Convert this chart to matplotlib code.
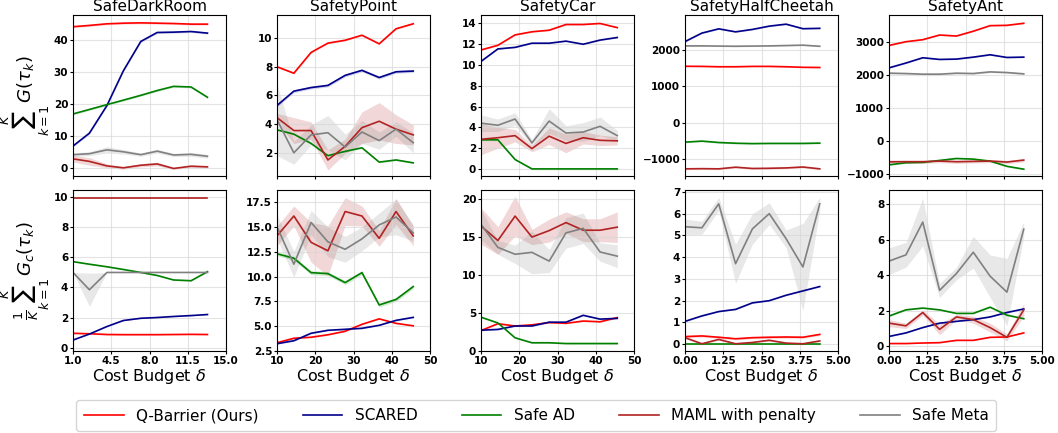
import matplotlib

matplotlib.use("Agg")
import matplotlib.pyplot as plt
from matplotlib.ticker import FormatStrFormatter

plt.rcParams.update({
    "font.family": "DejaVu Sans",
    "font.size": 9,
    "mathtext.fontset": "dejavusans",
})

METHODS = ["Q-Barrier (Ours)", "SCARED", "Safe AD", "MAML with penalty", "Safe Meta"]
COLORS = ["red", "darkblue", "green", "firebrick", "gray"]
ENVS = ["SafeDarkRoom", "SafetyPoint", "SafetyCar", "SafetyHalfCheetah", "SafetyAnt"]

# budgets per env
X_DARK = [1.0, 2.5, 4.1, 5.6, 7.2, 8.7, 10.2, 11.8, 13.3]
X_POINT = [10, 14.4, 18.9, 23.3, 27.8, 32.2, 36.7, 41.1, 45.6]
X_CAR = [10, 14.4, 18.9, 23.3, 27.8, 32.2, 36.7, 41.1, 45.6]
X_HC = [0.0, 0.55, 1.1, 1.65, 2.2, 2.75, 3.3, 3.85, 4.4]
X_ANT = [0.0, 0.55, 1.1, 1.65, 2.2, 2.75, 3.3, 3.85, 4.4]

# return (top row): mean / std, same order as METHODS
RET_DARK = [
    [44.2, 44.6, 45.1, 45.3, 45.4, 45.3, 45.2, 45.0, 45.0],
    [7.0, 11.0, 19.6, 30.4, 39.6, 42.4, 42.5, 42.7, 42.2],
    [17.0, 18.4, 19.9, 21.3, 22.8, 24.3, 25.6, 25.4, 22.2],
    [3.0, 2.2, 0.8, 0.2, 1.0, 1.4, 0.0, 0.7, 0.5],
    [4.3, 4.6, 5.8, 5.2, 4.3, 5.4, 4.2, 4.4, 3.8],
]
RET_DARK_SD = [
    [0.3] * 9,
    [0.3] * 9,
    [0.3] * 9,
    [1.0, 1.2, 0.6, 0.4, 0.5, 0.6, 0.3, 0.4, 0.3],
    [0.6, 0.6, 1.0, 0.7, 0.5, 0.6, 0.5, 0.6, 0.6],
]
RET_POINT = [
    [8.0, 7.55, 9.0, 9.65, 9.85, 10.2, 9.6, 10.65, 11.0],
    [5.3, 6.3, 6.55, 6.7, 7.4, 7.75, 7.25, 7.65, 7.7],
    [3.6, 3.3, 2.65, 1.8, 2.1, 2.35, 1.35, 1.5, 1.3],
    [4.45, 3.55, 3.55, 1.5, 2.45, 3.75, 4.2, 3.65, 3.25],
    [4.3, 2.0, 3.25, 3.4, 2.4, 3.45, 2.85, 3.65, 2.7],
]
RET_POINT_SD = [
    [0.05] * 9,
    [0.1] * 9,
    [0.05] * 9,
    [0.3, 0.9, 0.6, 0.7, 0.5, 1.1, 1.3, 1.0, 0.7],
    [2.5, 0.8, 0.7, 1.2, 0.9, 0.8, 0.6, 0.5, 0.7],
]
RET_CAR = [
    [11.45, 11.9, 12.9, 13.2, 13.35, 13.9, 13.9, 14.0, 13.6],
    [10.35, 11.55, 11.7, 12.1, 12.1, 12.3, 12.0, 12.4, 12.65],
    [2.8, 2.8, 0.9, 0.0, 0.0, 0.0, 0.0, 0.0, 0.0],
    [2.85, 3.0, 3.2, 1.95, 3.15, 2.45, 3.0, 2.75, 2.7],
    [4.4, 4.2, 4.8, 2.5, 4.6, 3.45, 3.55, 4.1, 3.2],
]
RET_CAR_SD = [
    [0.05] * 9,
    [0.05] * 9,
    [0.08] * 9,
    [1.5, 1.0, 0.6, 0.3, 0.8, 0.9, 0.6, 0.5, 0.4],
    [0.8, 0.6, 0.6, 0.3, 1.2, 0.7, 0.9, 0.9, 0.5],
]
RET_HC = [
    [1543, 1540, 1530, 1530, 1540, 1540, 1530, 1515, 1510],
    [2219, 2450, 2566, 2484, 2550, 2640, 2694, 2570, 2580],
    [-530, -502, -540, -560, -570, -565, -565, -565, -557],
    [-1260, -1255, -1260, -1215, -1250, -1245, -1235, -1210, -1260],
    [2100, 2100, 2095, 2090, 2095, 2100, 2110, 2120, 2090],
]
RET_HC_SD = [
    [15] * 9,
    [15] * 9,
    [20] * 9,
    [25] * 9,
    [15] * 9,
]
RET_ANT = [
    [2908, 3020, 3082, 3224, 3194, 3340, 3510, 3520, 3582],
    [2224, 2370, 2531, 2480, 2490, 2550, 2622, 2540, 2550],
    [-735, -670, -660, -600, -541, -560, -620, -780, -867],
    [-643, -640, -640, -620, -640, -630, -620, -650, -590],
    [2061, 2050, 2030, 2030, 2060, 2050, 2100, 2080, 2040],
]
RET_ANT_SD = [
    [15] * 9,
    [15] * 9,
    [20] * 9,
    [50] * 9,
    [25] * 9,
]

# cost (bottom row)
COST_DARK = [
    [0.95, 0.92, 0.87, 0.86, 0.86, 0.86, 0.87, 0.88, 0.87],
    [0.5, 0.9, 1.4, 1.8, 1.95, 2.0, 2.07, 2.13, 2.2],
    [5.72, 5.55, 5.38, 5.2, 5.0, 4.8, 4.5, 4.45, 5.05],
    [9.95] * 9,
    [5.0, 3.85, 5.0, 5.0, 5.0, 5.0, 5.0, 5.0, 5.0],
]
COST_DARK_SD = [
    [0.04] * 9,
    [0.02] * 9,
    [0.03] * 9,
    [0.03] * 9,
    [0.0, 1.1, 0.0, 0.0, 0.0, 0.0, 0.0, 0.0, 0.0],
]
COST_POINT = [
    [3.35, 3.8, 3.9, 4.15, 4.5, 5.2, 5.75, 5.3, 5.05],
    [3.25, 3.55, 4.3, 4.6, 4.7, 4.8, 5.1, 5.6, 5.9],
    [12.3, 11.85, 10.4, 10.3, 9.4, 10.4, 7.15, 7.7, 9.0],
    [14.1, 16.1, 13.45, 12.6, 16.55, 16.1, 13.85, 16.55, 14.1],
    [15.0, 11.25, 15.45, 13.5, 12.75, 13.8, 15.2, 16.0, 14.4],
]
COST_POINT_SD = [
    [0.05] * 9,
    [0.05] * 9,
    [0.2] * 9,
    [1.0, 1.0, 2.0, 2.5, 1.4, 1.0, 0.8, 1.3, 1.0],
    [1.2, 1.3, 1.2, 1.5, 1.3, 1.2, 1.2, 1.8, 0.8],
]
COST_CAR = [
    [2.7, 3.6, 3.3, 3.45, 3.75, 3.65, 3.95, 3.85, 4.4],
    [2.75, 2.85, 3.3, 3.3, 3.8, 3.8, 4.7, 4.2, 4.3],
    [4.45, 3.7, 1.75, 1.1, 1.1, 1.0, 1.0, 1.0, 1.0],
    [16.4, 14.5, 17.7, 14.95, 15.8, 16.85, 15.85, 15.85, 16.25],
    [16.6, 13.6, 12.7, 12.95, 11.8, 15.5, 16.1, 13.0, 12.45],
]
COST_CAR_SD = [
    [0.08] * 9,
    [0.08] * 9,
    [0.08] * 9,
    [2.4, 1.8, 2.6, 1.0, 1.5, 1.4, 1.5, 1.5, 2.0],
    [2.0, 0.9, 1.2, 2.8, 1.5, 2.0, 2.0, 1.2, 1.5],
]
COST_HC = [
    [0.35, 0.38, 0.32, 0.25, 0.3, 0.32, 0.33, 0.32, 0.45],
    [1.05, 1.3, 1.5, 1.6, 1.9, 2.0, 2.25, 2.45, 2.65],
    [0.0] * 9,
    [0.3, 0.02, 0.22, 0.02, 0.08, 0.18, 0.05, 0.02, 0.15],
    [5.4, 5.35, 6.45, 3.7, 5.3, 6.0, 4.85, 3.55, 6.45],
]
COST_HC_SD = [
    [0.05] * 9,
    [0.02] * 9,
    [0.02] * 9,
    [0.04] * 9,
    [0.35, 0.3, 0.3, 0.9, 0.7, 0.5, 0.4, 2.0, 0.3],
]
COST_ANT = [
    [0.15, 0.15, 0.18, 0.2, 0.33, 0.33, 0.5, 0.52, 0.75],
    [0.55, 0.75, 1.05, 1.3, 1.4, 1.5, 1.65, 1.9, 2.1],
    [1.7, 2.05, 2.15, 2.05, 1.85, 1.85, 2.2, 1.75, 1.55],
    [1.3, 1.15, 1.9, 0.95, 1.65, 1.5, 1.05, 0.5, 2.05],
    [4.8, 5.15, 7.0, 3.15, 4.1, 5.3, 3.95, 3.05, 6.6],
]
COST_ANT_SD = [
    [0.02] * 9,
    [0.02] * 9,
    [0.03] * 9,
    [0.2, 0.15, 0.15, 0.3, 0.15, 0.2, 0.25, 0.2, 0.35],
    [0.75, 0.7, 1.35, 0.4, 0.35, 0.9, 1.2, 1.9, 0.4],
]

XS = [X_DARK, X_POINT, X_CAR, X_HC, X_ANT]
TOP = [(RET_DARK, RET_DARK_SD), (RET_POINT, RET_POINT_SD), (RET_CAR, RET_CAR_SD),
       (RET_HC, RET_HC_SD), (RET_ANT, RET_ANT_SD)]
BOT = [(COST_DARK, COST_DARK_SD), (COST_POINT, COST_POINT_SD), (COST_CAR, COST_CAR_SD),
       (COST_HC, COST_HC_SD), (COST_ANT, COST_ANT_SD)]

XTICKS = [[1.0, 4.5, 8.0, 11.5, 15.0], [10, 20, 30, 40, 50], [10, 20, 30, 40, 50],
          [0.0, 1.25, 2.5, 3.75, 5.0], [0.0, 1.25, 2.5, 3.75, 5.0]]
XFMT = ["%.1f", "%d", "%d", "%.2f", "%.2f"]
TOP_YTICKS = [[0, 10, 20, 30, 40], [2, 4, 6, 8, 10], [0, 2, 4, 6, 8, 10, 12, 14],
              [-1000, 0, 1000, 2000], [-1000, 0, 1000, 2000, 3000]]
TOP_YLIM = [(-2.4, 47.8), (0.37, 11.6), (-0.7, 14.8), (-1460, 2940), (-1080, 3830)]
BOT_YTICKS = [[0, 2, 4, 6, 8, 10], [2.5, 5.0, 7.5, 10.0, 12.5, 15.0, 17.5], [0, 5, 10, 15, 20],
              [0, 1, 2, 3, 4, 5, 6, 7], [0, 2, 4, 6, 8]]
BOT_YLIM = [(-0.24, 10.48), (2.5, 18.7), (0, 21.1), (-0.32, 7.08), (-0.28, 8.8)]

fig, axes = plt.subplots(2, 5, figsize=(10.58, 4.33), dpi=100)
fig.subplots_adjust(left=0.069, right=0.985, top=0.965, bottom=0.189,
                    wspace=0.333, hspace=0.087)


def draw(ax, x, means, sds):
    for m, s, c, name in zip(means, sds, COLORS, METHODS):
        lo = [a - b for a, b in zip(m, s)]
        hi = [a + b for a, b in zip(m, s)]
        ax.fill_between(x, lo, hi, color=c, alpha=0.18, lw=0)
        ax.plot(x, m, color=c, lw=1.2, label=name)


for j in range(5):
    top, bot = axes[0, j], axes[1, j]
    draw(top, XS[j], *TOP[j])
    draw(bot, XS[j], *BOT[j])
    top.set_title(ENVS[j], fontsize=11, pad=3)
    for ax in (top, bot):
        ax.set_xlim(XTICKS[j][0], XTICKS[j][-1])
        ax.set_xticks(XTICKS[j])
        ax.grid(True, color="#d8d8d8", lw=0.8, alpha=0.7)
        ax.tick_params(labelsize=7.5, length=2, pad=1.5)
    top.set_yticks(TOP_YTICKS[j])
    top.set_ylim(*TOP_YLIM[j])
    top.tick_params(labelbottom=False)
    bot.set_yticks(BOT_YTICKS[j])
    bot.set_ylim(*BOT_YLIM[j])
    bot.xaxis.set_major_formatter(FormatStrFormatter(XFMT[j]))
    for ax in (top, bot):
        for lab in ax.get_yticklabels() + ax.get_xticklabels():
            lab.set_fontweight("bold")
    bot.set_xlabel(r"Cost Budget $\delta$", fontsize=11.5, labelpad=1)

axes[0, 0].set_ylabel(r"$\sum_{k=1}^{K}\, G(\tau_k)$", fontsize=13, labelpad=1)
axes[1, 0].set_ylabel(r"$\frac{1}{K}\sum_{k=1}^{K}\, G_c(\tau_k)$", fontsize=13, labelpad=1)

handles, labels = axes[0, 0].get_legend_handles_labels()
fig.legend(handles, labels, loc="upper center", bbox_to_anchor=(0.507, 0.093),
           ncol=5, fontsize=11, frameon=True, handlelength=2.6,
           columnspacing=2.9, borderpad=0.5)

fig.savefig("out.png", dpi=100)
